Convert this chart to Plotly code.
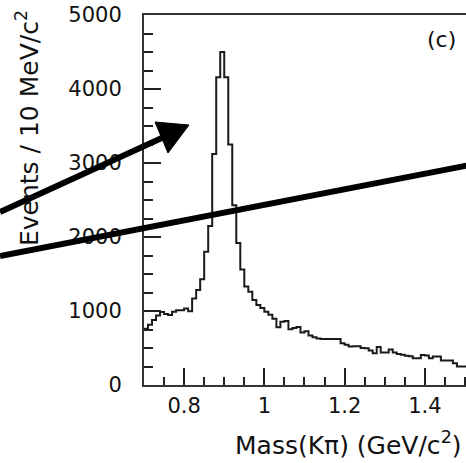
import plotly.graph_objects as go

# ---- data -------------------------------------------------------------
bin_start = 0.70      # GeV/c^2
bin_width = 0.01      # 10 MeV bins
counts = [
    760, 815, 880, 940, 985, 960, 945, 990, 1010, 1010,
    1035, 995, 1170, 1285, 1430, 1800, 2150, 3120, 4160, 4500,
    4160, 3250, 2430, 1920, 1560, 1330, 1260, 1150, 1080, 1040,
    990, 950, 895, 780, 856, 865, 752, 770, 785, 710,
    725, 670, 645, 630, 620, 620, 620, 620, 620, 565,
    545, 520, 525, 525, 500, 495, 465, 430, 515, 440,
    440, 480, 440, 420, 410, 395, 390, 360, 360, 405,
    400, 360, 385, 385, 330, 330, 330, 295, 250, 250,
    250,
]
x_ticks = [0.8, 1.0, 1.2, 1.4]
x_ticktext = ["0.8", "1", "1.2", "1.4"]
y_ticks = [0, 1000, 2000, 3000, 4000, 5000]
y_ticktext = ["0", "1000", "2000", "3000", "4000", "5000"]

edges = [bin_start + bin_width * i for i in range(len(counts) + 1)]
yvals = counts + [counts[-1]]

# ---- layout geometry ---------------------------------------------------
W, H = 466, 463
ML, MR, MT, MB = 144, 0, 15, 78
PW, PH = W - ML - MR, H - MT - MB
x_min = 0.70
x_max = x_min + PW / 401.2


def px(xp, yp):
    """pixel -> paper coordinates (for the overlay arrows)"""
    return (xp - ML) / PW, (H - MB - yp) / PH


FONT = "DejaVu Sans"

fig = go.Figure()
fig.add_trace(go.Scatter(
    x=edges, y=yvals, mode="lines", line_shape="hv",
    line=dict(color="#1a1a1a", width=2), showlegend=False, hoverinfo="skip",
))

axis_common = dict(
    showgrid=False, zeroline=False, showline=True, linecolor="#333333",
    linewidth=2, ticks="inside", ticklen=17, tickwidth=2, tickcolor="#222222",
    tickfont=dict(family=FONT, size=21, color="#111111"),
)
fig.update_xaxes(
    range=[x_min, x_max], tickvals=x_ticks, ticktext=x_ticktext,
    mirror=True, ticklabelstandoff=1,
    minor=dict(tick0=0.7, dtick=0.05, ticks="inside", ticklen=8,
               tickwidth=2, tickcolor="#222222"),
    **axis_common,
)
fig.update_yaxes(
    range=[0, 5000], tickvals=y_ticks, ticktext=y_ticktext,
    ticklabelstandoff=16,
    minor=dict(tick0=0, dtick=250, ticks="inside", ticklen=9,
               tickwidth=2, tickcolor="#222222"),
    **axis_common,
)

# overlay arrows (thick black lines)
shapes = []
x0, y0 = px(0, 212)
x1, y1 = px(164, 137)
shapes.append(dict(type="line", xref="paper", yref="paper", x0=x0, y0=y0,
                   x1=x1, y1=y1, line=dict(color="black", width=6)))
ta, tb, tc = px(189, 125), px(155, 122), px(168, 153)
shapes.append(dict(type="path", xref="paper", yref="paper",
                   path=f"M {ta[0]},{ta[1]} L {tb[0]},{tb[1]} L {tc[0]},{tc[1]} Z",
                   fillcolor="black", line=dict(color="black", width=1)))
x0, y0 = px(0, 256)
x1, y1 = px(470, 165)
shapes.append(dict(type="line", xref="paper", yref="paper", x0=x0, y0=y0,
                   x1=x1, y1=y1, line=dict(color="black", width=6)))

ytx, yty = px(27, 128)
xtx, xty = px(464, 443)
ctx, cty = px(441, 40)
annotations = [
    dict(text="Events / 10 MeV/c<sup>2</sup>", textangle=-90, xref="paper",
         yref="paper", x=ytx, y=yty, xanchor="center", yanchor="middle",
         showarrow=False, font=dict(family=FONT, size=25, color="#111111")),
    dict(text="Mass(Kπ) (GeV/c<sup>2</sup>)", xref="paper", yref="paper",
         x=xtx, y=xty, xanchor="right", yanchor="middle", showarrow=False,
         font=dict(family=FONT, size=25, color="#111111")),
    dict(text="(c)", xref="paper", yref="paper", x=ctx, y=cty,
         xanchor="center", yanchor="middle", showarrow=False,
         font=dict(family=FONT, size=22, color="#111111")),
]

fig.update_layout(
    width=W, height=H, margin=dict(l=ML, r=MR, t=MT, b=MB),
    paper_bgcolor="white", plot_bgcolor="white",
    shapes=shapes, annotations=annotations, showlegend=False,
)
fig.write_html("out.html", config={"displayModeBar": False})
